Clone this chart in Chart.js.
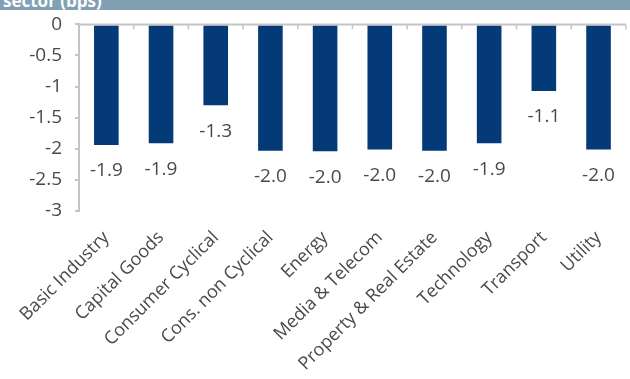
<!DOCTYPE html>
<html>
<head>
<meta charset="utf-8">
<script src="https://cdn.jsdelivr.net/npm/chart.js@4/dist/chart.umd.min.js"></script>
<style>
  html, body { margin: 0; padding: 0; background: #fff; }
  #wrap { position: relative; width: 630px; height: 379px; overflow: hidden; }
  #band { position: absolute; left: 0; top: 0; width: 630px; height: 10px; background: #80a0b4; overflow: hidden; }
  #band span { position: absolute; left: 3px; top: -8px; font: bold 17px "Open Sans", sans-serif; color: #fff; line-height: 17px; }
  #c { position: absolute; left: 0; top: 0; }
</style>
</head>
<body>
<div id="wrap">
  <canvas id="c" width="630" height="379"></canvas>
  <div id="band"><span>sector (bps)</span></div>
</div>
<script>
  let sectors = ['Basic Industry','Capital Goods','Consumer Cyclical','Cons. non Cyclical','Energy',
    'Media & Telecom','Property & Real Estate','Technology','Transport','Utility'];
  let changes = [-1.94,-1.91,-1.30,-2.03,-2.04,-2.01,-2.03,-1.91,-1.07,-2.01];
  let yMin = -3;
  let yMax = 0;
  let yStep = 0.5;

  let textColor = '#4a4a4a';
  let axisColor = '#c4c4c4';

  // zero line along the top with little ticks between categories
  let zeroLine = {
    id: 'zeroLine',
    afterDatasetsDraw(chart) {
      let ctx = chart.ctx;
      let area = chart.chartArea;
      let y0 = chart.scales.y.getPixelForValue(0);
      ctx.save();
      ctx.strokeStyle = axisColor;
      ctx.lineWidth = 2;
      ctx.beginPath();
      ctx.moveTo(area.left, y0);
      ctx.lineTo(area.right, y0);
      ctx.stroke();
      ctx.lineWidth = 1.5;
      let n = sectors.length;
      for (let i = 0; i <= n; i++) {
        let x = area.left + i * (area.right - area.left) / n;
        ctx.beginPath();
        ctx.moveTo(x, y0);
        ctx.lineTo(x, y0 + 5);
        ctx.stroke();
      }
      ctx.restore();
    }
  };

  // value labels under each bar end
  let barLabels = {
    id: 'barLabels',
    afterDatasetsDraw(chart) {
      let ctx = chart.ctx;
      let meta = chart.getDatasetMeta(0);
      ctx.save();
      ctx.font = '19px "Open Sans", sans-serif';
      ctx.fillStyle = textColor;
      ctx.textAlign = 'center';
      ctx.textBaseline = 'middle';
      meta.data.forEach(function(bar, i) {
        ctx.fillText(changes[i].toFixed(1), bar.x, bar.y + 26);
      });
      ctx.restore();
    }
  };

  new Chart(document.getElementById('c'), {
    type: 'bar',
    data: {
      labels: sectors,
      datasets: [{
        data: changes,
        backgroundColor: '#053a78',
        borderWidth: 0,
        categoryPercentage: 1,
        barPercentage: 0.45
      }]
    },
    options: {
      responsive: false,
      animation: false,
      layout: { padding: { top: 23, right: 4, left: 0, bottom: 0 } },
      plugins: { legend: { display: false }, tooltip: { enabled: false } },
      scales: {
        x: {
          position: 'bottom',
          grid: { display: false, drawTicks: false },
          border: { display: false },
          ticks: {
            autoSkip: false,
            minRotation: 45,
            maxRotation: 45,
            padding: 16,
            color: textColor,
            font: { family: '"Open Sans", sans-serif', size: 18 }
          },
          afterFit(scale) { scale.height = 168; }
        },
        y: {
          min: yMin,
          max: yMax,
          grid: { display: true, drawOnChartArea: false, drawTicks: true, tickLength: 4, color: axisColor, lineWidth: 2 },
          border: { display: true, color: axisColor, width: 2 },
          ticks: {
            stepSize: yStep,
            padding: 13,
            color: textColor,
            font: { family: '"Open Sans", sans-serif', size: 19 },
            callback: function(value) { return String(Math.round(value * 10) / 10); }
          },
          afterFit(scale) { scale.width = 79; }
        }
      }
    },
    plugins: [zeroLine, barLabels]
  });
</script>
</body>
</html>
